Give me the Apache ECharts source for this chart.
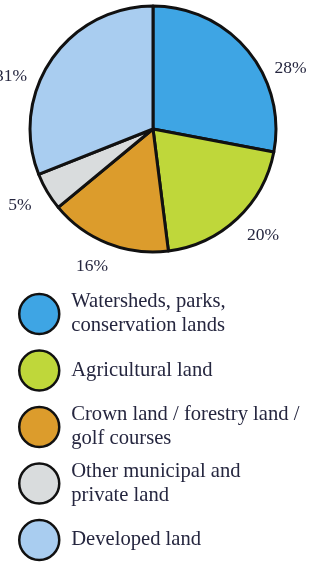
<!DOCTYPE html>
<html>
<head>
<meta charset="utf-8">
<script src="https://cdn.jsdelivr.net/npm/echarts@6/dist/echarts.min.js"></script>
<style>
html,body{margin:0;padding:0;background:#fff;}
#c{width:310px;height:563px;}
</style>
</head>
<body>
<div id="c"></div>
<script>
const categories = [
  'Watersheds, parks,\nconservation lands',
  'Agricultural land',
  'Crown land / forestry land /\ngolf courses',
  'Other municipal and\nprivate land',
  'Developed land'
];
const shares = [28, 20, 16, 5, 31];
const colors = ['#3ea5e4', '#bfd73a', '#dc9c2c', '#d9dcdd', '#a9cdf0'];

const textColor = '#25263f';
const serif = '"Liberation Serif", "DejaVu Serif", serif';

// small hand placement of the percentage labels (as in the original artwork)
const labelNudges = [[10, 24], [-6, 9], [13, 14], [2, 9], [-7, 22]];

const chart = echarts.init(document.getElementById('c'), null, {renderer: 'canvas'});

const pieData = categories.map((name, i) => ({
  name: name,
  value: shares[i],
  itemStyle: {color: colors[i]}
}));

const legendData = categories.map(name => {
  const twoLine = name.indexOf('\n') >= 0;
  return {
    name: name,
    textStyle: {padding: twoLine ? [0, 0, 0, 7] : [12, 0, 12, 7]}
  };
});

chart.setOption({
  animation: false,
  backgroundColor: '#fff',
  color: colors,
  legend: {
    orient: 'vertical',
    left: 18,
    top: 290,
    height: 400,
    padding: 0,
    icon: 'circle',
    itemWidth: 40,
    itemHeight: 40,
    itemGap: 8.5,
    data: legendData,
    itemStyle: {borderColor: '#111', borderWidth: 2.5},
    textStyle: {
      fontFamily: serif,
      fontSize: 20.6,
      lineHeight: 24,
      color: textColor
    }
  },
  series: [{
    type: 'pie',
    center: [153, 129],
    radius: 123,
    startAngle: 90,
    clockwise: true,
    avoidLabelOverlap: false,
    itemStyle: {borderColor: '#111', borderWidth: 3},
    label: {
      show: true,
      position: 'outside',
      formatter: '{c}%',
      fontFamily: serif,
      fontSize: 17.5,
      color: textColor
    },
    labelLine: {show: false, length: 10, length2: 4},
    labelLayout: function (p) {
      const n = labelNudges[p.dataIndex];
      return {dx: n[0], dy: n[1]};
    },
    emphasis: {disabled: true},
    data: pieData
  }]
});
</script>
</body>
</html>
